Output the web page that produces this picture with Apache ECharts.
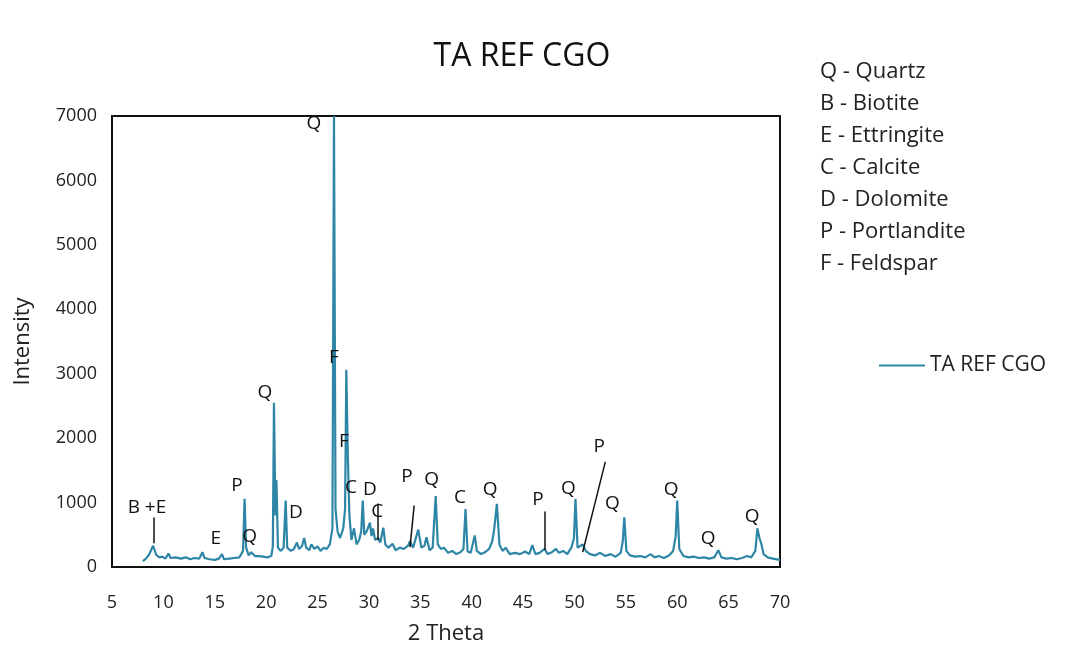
<!DOCTYPE html>
<html>
<head>
<meta charset="utf-8">
<script src="https://cdn.jsdelivr.net/npm/echarts@6/dist/echarts.min.js"></script>
<style>
  html, body { margin: 0; padding: 0; background: #fff; }
  #main { width: 1072px; height: 650px; }
</style>
</head>
<body>
<div id="main"></div>
<script>
// 2 Theta positions and intensity
const twoTheta = [
  8.0, 8.3, 8.6, 8.8, 9.0, 9.1, 9.3, 9.6, 9.9, 10.2, 10.5, 10.7, 11.2, 11.7, 12.2, 12.6,
  13.0, 13.5, 13.8, 14.0, 14.5, 15.0, 15.4, 15.7, 15.9, 16.4, 16.9, 17.4, 17.75, 17.9, 18.05,
  18.3, 18.55, 18.7, 18.9, 19.3, 19.7, 20.1, 20.5, 20.65, 20.76, 20.9, 21.0, 21.15, 21.4,
  21.7, 21.9, 22.05, 22.4, 22.7, 23.0, 23.2, 23.5, 23.7, 23.9, 24.2, 24.4, 24.7, 25.0,
  25.3, 25.6, 25.9, 26.2, 26.45, 26.6, 26.75, 26.95, 27.2, 27.5, 27.68, 27.8, 27.95, 28.1,
  28.3, 28.55, 28.8, 29.05, 29.25, 29.4, 29.55, 29.8, 30.1, 30.25, 30.4, 30.6, 30.9, 31.1,
  31.4, 31.6, 31.9, 32.3, 32.6, 33.0, 33.4, 33.8, 34.0, 34.3, 34.8, 35.1, 35.4, 35.6, 35.9,
  36.2, 36.5, 36.7, 37.0, 37.3, 37.7, 38.1, 38.5, 38.9, 39.2, 39.4, 39.6, 39.9, 40.3, 40.5,
  40.9, 41.3, 41.7, 42.0, 42.2, 42.45, 42.7, 43.0, 43.3, 43.7, 44.2, 44.7, 45.2, 45.6, 45.9,
  46.2, 46.6, 47.1, 47.4, 47.8, 48.2, 48.5, 48.9, 49.3, 49.7, 49.95, 50.1, 50.3, 50.8, 51.1,
  51.5, 52.0, 52.5, 53.0, 53.5, 54.0, 54.5, 54.7, 54.85, 55.05, 55.4, 55.9, 56.4, 56.9, 57.4,
  57.8, 58.2, 58.7, 59.2, 59.6, 59.85, 60.0, 60.2, 60.6, 61.1, 61.6, 62.1, 62.6, 63.1, 63.6,
  64.0, 64.3, 64.8, 65.3, 65.8, 66.3, 66.8, 67.2, 67.6, 67.8, 68.0, 68.2, 68.4, 68.8, 69.3, 70.0
];
const intensity = [
  90, 130, 190, 260, 330, 355, 190, 150, 160, 130, 210, 140, 150, 130, 150, 120,
  140, 130, 230, 140, 120, 110, 130, 200, 120, 130, 140, 150, 250, 1060, 300,
  180, 230, 260, 170, 170, 160, 150, 170, 320, 2550, 800, 1350, 300, 250,
  300, 1030, 300, 250, 280, 380, 280, 330, 450, 300, 260, 350, 280, 320,
  250, 300, 280, 350, 600, 7000, 900, 550, 450, 600, 900, 3060, 1700, 800,
  420, 600, 350, 420, 550, 1030, 500, 560, 690, 480, 600, 420, 450, 380,
  610, 350, 300, 360, 260, 300, 280, 330, 400, 300, 580, 300, 330, 460, 260,
  300, 1100, 350, 280, 300, 220, 250, 200, 230, 280, 900, 240, 220, 490, 250,
  200, 230, 280, 400, 600, 980, 350, 250, 300, 200, 220, 200, 240, 200, 340,
  200, 220, 280, 200, 230, 280, 220, 250, 200, 300, 450, 1060, 300, 350, 250,
  200, 180, 220, 170, 200, 160, 220, 400, 770, 250, 180, 160, 170, 150, 200,
  150, 170, 140, 180, 250, 480, 1030, 280, 170, 150, 160, 140, 150, 130, 150,
  260, 150, 130, 140, 120, 140, 170, 150, 250, 600, 450, 350, 200, 150, 130, 110
];

// phase letters placed over the peaks: [text, 2theta, intensity]
const peakLabels = [
  ['Q', 24.65, 6877], ['F', 26.6, 3246], ['F', 27.57, 1954], ['Q', 19.88, 2708],
  ['P', 17.16, 1262], ['B +E', 8.4, 923], ['E', 15.1, 446], ['Q', 18.4, 477],
  ['D', 22.9, 846], ['C', 28.25, 1231], ['D', 30.1, 1200], ['C', 30.8, 862],
  ['P', 33.7, 1400], ['Q', 36.1, 1354], ['C', 38.85, 1077], ['Q', 41.8, 1200],
  ['P', 46.45, 1046], ['Q', 49.4, 1215], ['P', 52.4, 1862], ['Q', 53.7, 985],
  ['Q', 59.4, 1200], ['Q', 63.0, 446], ['Q', 67.3, 785]
];

// leader lines from label to peak: [x1, y1, x2, y2]
const leaderLines = [
  [9.1, 769, 9.1, 369],
  [30.9, 985, 30.9, 415],
  [34.4, 954, 34.0, 308],
  [47.1, 862, 47.1, 262],
  [53.0, 1631, 50.8, 231]
];

const phases = [
  'Q - Quartz', 'B - Biotite', 'E - Ettringite', 'C - Calcite',
  'D - Dolomite', 'P - Portlandite', 'F - Feldspar'
];

const seriesName = 'TA REF CGO';
const FONT = '"Open Sans", sans-serif';

const chart = echarts.init(document.getElementById('main'));

const points = twoTheta.map((t, i) => [t, intensity[i]]);

const option = {
  backgroundColor: '#fff',
  animation: false,
  title: {
    text: 'TA REF CGO',
    left: 517,
    top: 36,
    textAlign: 'center',
    textStyle: { fontFamily: FONT, fontSize: 32, fontWeight: 'normal', color: '#111' }
  },
  legend: {
    data: [seriesName],
    left: 874,
    top: 350,
    itemWidth: 46,
    itemHeight: 14,
    itemGap: 12,
    icon: 'path://M0,6 L46,6 L46,8 L0,8 Z',
    textStyle: { fontFamily: FONT, fontSize: 21, color: '#222' }
  },
  grid: {
    left: 112,
    right: 292,
    top: 116,
    bottom: 77,
    show: true,
    borderColor: '#111',
    borderWidth: 2,
    containLabel: false
  },
  xAxis: {
    type: 'value',
    min: 5,
    max: 70,
    interval: 5,
    name: '2 Theta',
    nameLocation: 'middle',
    nameGap: 56,
    nameTextStyle: { fontFamily: FONT, fontSize: 22, color: '#222' },
    axisLine: { show: false },
    axisTick: { show: false },
    splitLine: { show: false },
    axisLabel: { margin: 27, fontFamily: FONT, fontSize: 18, color: '#222' }
  },
  yAxis: {
    type: 'value',
    min: 0,
    max: 7000,
    interval: 1000,
    name: 'Intensity',
    nameLocation: 'middle',
    nameGap: 78,
    nameTextStyle: { fontFamily: FONT, fontSize: 22, color: '#222' },
    axisLine: { show: false },
    axisTick: { show: false },
    splitLine: { show: false },
    axisLabel: { margin: 15, fontFamily: FONT, fontSize: 18, color: '#222', formatter: v => String(v) }
  },
  graphic: phases.map((p, i) => ({
    type: 'text',
    left: 820,
    top: 61 + i * 32,
    style: { text: p, font: '22px ' + FONT, fill: '#222' }
  })),
  series: [{
    name: seriesName,
    type: 'line',
    data: points,
    showSymbol: false,
    symbol: 'none',
    clip: true,
    lineStyle: { color: '#2e86a6', width: 2.2 },
    itemStyle: { color: '#2e86a6' },
    markPoint: {
      silent: true,
      symbol: 'circle',
      symbolSize: 1,
      itemStyle: { color: 'rgba(0,0,0,0)' },
      label: {
        show: true,
        position: 'inside',
        formatter: '{b}',
        fontFamily: FONT,
        fontSize: 19,
        color: '#111'
      },
      data: peakLabels.map(l => ({ name: l[0], coord: [l[1], l[2]] }))
    },
    markLine: {
      silent: true,
      symbol: ['none', 'none'],
      label: { show: false },
      lineStyle: { color: '#111', width: 1.5, type: 'solid' },
      data: leaderLines.map(l => [{ coord: [l[0], l[1]] }, { coord: [l[2], l[3]] }])
    }
  }]
};

chart.setOption(option);
</script>
</body>
</html>
